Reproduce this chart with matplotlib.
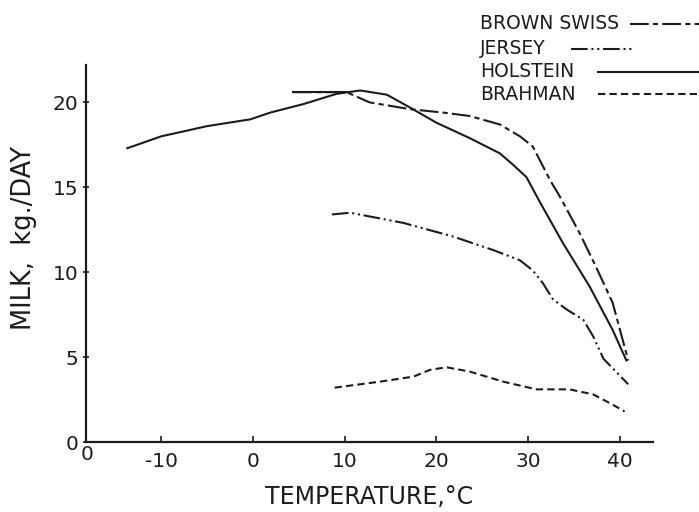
#!/usr/bin/env python3

import matplotlib
matplotlib.use('Agg')
import matplotlib.pyplot as plt
from matplotlib.lines import Line2D

ink = '#1c1c1c'

# milk yield (kg/day) against air temperature (deg C)
holstein_t = [-13.7, -10, -5, -0.3, 1.9, 5.5, 9.1, 11.7, 14.6, 17.1, 20.0,
              23.6, 26.9, 28.4, 29.8, 31.3, 33.8, 36.7, 39.2, 40.7]
holstein_milk = [17.3, 18.0, 18.6, 19.0, 19.4, 19.9, 20.5, 20.7, 20.45, 19.7, 18.8,
                 17.9, 17.0, 16.3, 15.6, 14.1, 11.7, 9.15, 6.6, 4.8]

brown_swiss_t = [4.4, 10.2, 12.7, 17.1, 20.7, 23.6, 26.9, 29.1, 30.5, 32.4,
                 33.4, 35.6, 37.4, 39.2, 40.9]
brown_swiss_milk = [20.6, 20.6, 20.0, 19.6, 19.4, 19.2, 18.7, 18.0, 17.4, 15.4,
                    14.5, 12.3, 10.3, 8.2, 4.8]

jersey_t = [8.6, 10.6, 16.4, 21.8, 26.2, 29.1, 30.5, 31.6, 32.7, 34.2, 36.0,
            37.1, 38.2, 40.9]
jersey_milk = [13.4, 13.5, 12.9, 12.1, 11.3, 10.7, 10.1, 9.35, 8.4, 7.8, 7.2,
               6.2, 4.9, 3.4]

brahman_t = [8.9, 13.8, 17.5, 19.3, 21.1, 23.6, 27.3, 30.9, 34.5, 37.1, 39.2, 40.5]
brahman_milk = [3.2, 3.55, 3.85, 4.25, 4.4, 4.15, 3.55, 3.1, 3.1, 2.8, 2.2, 1.8]

x_ticks = [-10, 0, 10, 20, 30, 40]
y_ticks = [0, 5, 10, 15, 20]

styles = {'BROWN SWISS': (0, (9, 2, 2.5, 2)),
          'JERSEY': (0, (8, 1.8, 1, 1.8, 1, 1.8)),
          'HOLSTEIN': '-',
          'BRAHMAN': (0, (3.5, 2))}

plt.rcParams['font.family'] = ['DejaVu Sans']

fig = plt.figure(figsize=(6.99, 5.12), dpi=100)
ax = fig.add_axes([86 / 699, 70 / 512, 567 / 699, 377 / 512])

lw = 1.5
ax.plot(holstein_t, holstein_milk, color=ink, lw=lw, ls=styles['HOLSTEIN'])
ax.plot(brown_swiss_t, brown_swiss_milk, color=ink, lw=lw, ls=styles['BROWN SWISS'])
# the first stretch of the brown swiss curve is drawn as one unbroken stroke
ax.plot(brown_swiss_t[:2], brown_swiss_milk[:2], color=ink, lw=lw)
ax.plot(jersey_t, jersey_milk, color=ink, lw=lw, ls=styles['JERSEY'])
ax.plot(brahman_t, brahman_milk, color=ink, lw=lw, ls=styles['BRAHMAN'])

ax.set_xlim(-18.2, 43.6)
ax.set_ylim(0, 22.2)
for side in ('top', 'right'):
    ax.spines[side].set_visible(False)
for side in ('left', 'bottom'):
    ax.spines[side].set_linewidth(1.6)
    ax.spines[side].set_color(ink)

ax.set_xticks(x_ticks)
ax.set_xticklabels([str(t) for t in x_ticks])
ax.set_yticks(y_ticks)
ax.set_yticklabels([str(t) for t in y_ticks])
ax.tick_params(axis='x', direction='in', length=4, width=1.2, pad=7,
               labelsize=14.5, colors=ink)
ax.tick_params(axis='y', direction='inout', length=5, width=1.2, pad=3,
               labelsize=14.5, colors=ink)

# second zero of the origin, under the corner
ax.annotate('0', xy=(0, 0), xycoords='axes fraction', xytext=(1, -9),
            textcoords='offset points', ha='center', va='center',
            fontsize=14.5, color=ink)

ax.set_xlabel('TEMPERATURE,°C', fontsize=17, color=ink, labelpad=10)
ax.set_ylabel('MILK,  kg./DAY', fontsize=18.5, color=ink)
ax.yaxis.set_label_coords(-0.086, 0.54)

# key in the upper right corner: name, then a sample of its line
key_rows = [('BROWN SWISS', 23.6, 630, 699),
            ('JERSEY', 48.8, 571, 635),
            ('HOLSTEIN', 71.7, 598, 699),
            ('BRAHMAN', 94.3, 598, 699)]
H = 512.0
W = 699.0
for name, yy, x0, x1 in key_rows:
    fig.text(480 / W, 1 - yy / H, name, fontsize=13.5, color=ink,
             ha='left', va='center')
    fig.add_artist(Line2D([x0 / W, x1 / W], [1 - yy / H, 1 - yy / H],
                          transform=fig.transFigure, color=ink, lw=lw,
                          ls=styles[name]))

fig.savefig('out.png', dpi=100)
